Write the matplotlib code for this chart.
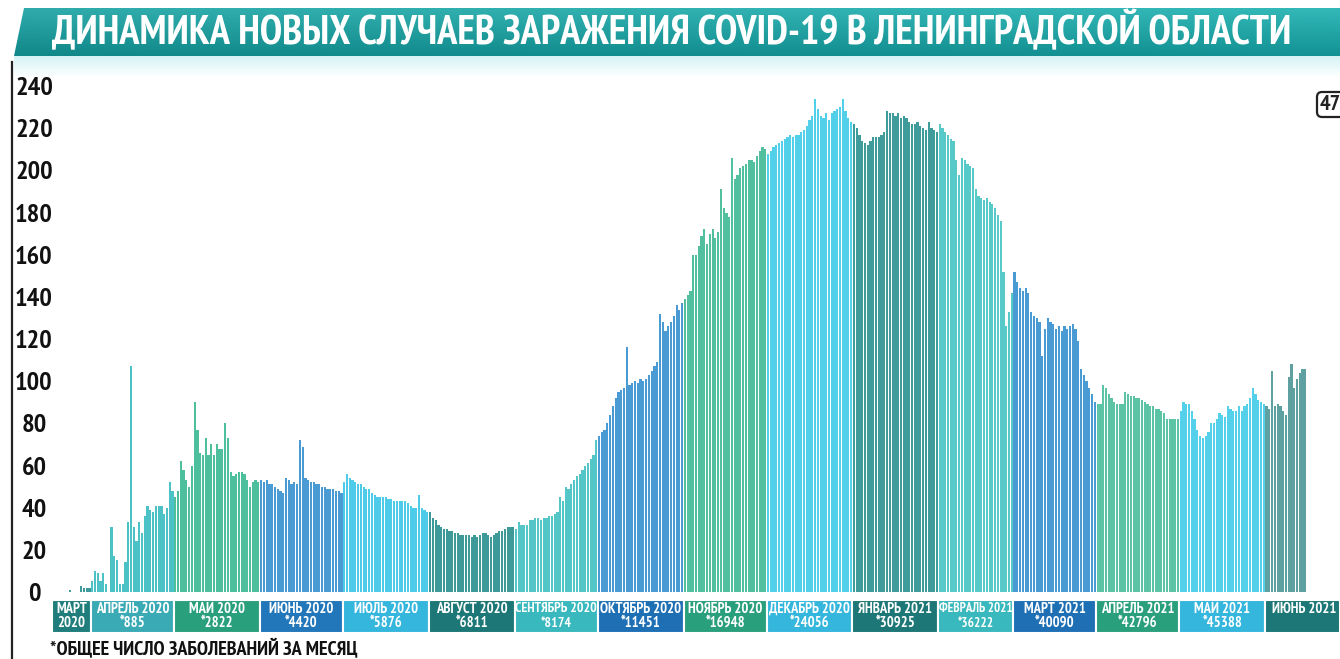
import matplotlib
matplotlib.use('Agg')
import matplotlib.pyplot as plt
import matplotlib.font_manager as fm
from matplotlib.font_manager import FontProperties
import numpy as np
from matplotlib.patches import Polygon, FancyBboxPatch

# ---------------- data (daily new cases) ----------------
mar_2020 = [0, 0, 0, 0, 0, 0, 1, 0, 0, 0, 3, 2, 2, 2]
apr_2020 = [5, 10, 9, 5, 9, 4, 0, 31, 17, 15, 4, 4, 14, 33, 107, 31, 24, 33, 28, 36,
            41, 39, 38, 41, 41, 41, 37, 40, 52, 48]
may_2020 = [45, 48, 62, 58, 53, 50, 60, 90, 77, 66, 65, 73, 65, 70, 65, 70, 68, 68, 80, 73,
            57, 55, 56, 57, 57, 56, 53, 50, 52, 53, 52]
jun_2020 = [53, 52, 53, 51, 51, 50, 49, 48, 47, 54, 53, 51, 52, 51, 72, 69, 54, 53, 52, 52,
            51, 51, 50, 50, 49, 49, 49, 48, 48, 47]
jul_2020 = [52, 56, 54, 53, 52, 51, 51, 50, 49, 49, 47, 46, 45, 45, 45, 45, 44, 44, 43, 43,
            43, 43, 43, 42, 41, 40, 40, 46, 40, 39, 38]
aug_2020 = [38, 35, 34, 32, 31, 30, 30, 29, 29, 28, 28, 27, 27, 27, 27, 26, 27, 26, 27, 28,
            28, 27, 26, 27, 28, 29, 29, 30, 31, 31, 31]
sep_2020 = [30, 33, 32, 32, 32, 34, 34, 35, 35, 34, 35, 35, 36, 36, 37, 38, 45, 43, 50, 49,
            51, 53, 55, 56, 58, 60, 61, 63, 65, 72]
oct_2020 = [74, 76, 77, 80, 84, 88, 92, 95, 96, 97, 116, 98, 99, 100, 99, 101, 100, 101, 103, 105,
            107, 109, 132, 128, 124, 126, 128, 131, 136, 134, 137]
nov_2020 = [139, 141, 143, 160, 160, 164, 169, 172, 165, 170, 172, 168, 171, 191, 182, 180, 178, 206, 196, 198,
            201, 202, 203, 205, 205, 204, 207, 209, 211, 210]
dec_2020 = [208, 209, 211, 212, 213, 214, 215, 216, 217, 216, 217, 217, 218, 219, 221, 224, 226, 234, 229, 226,
            225, 227, 224, 227, 228, 229, 230, 234, 228, 225, 223]
jan_2021 = [222, 220, 217, 214, 213, 212, 214, 216, 216, 216, 217, 218, 228, 227, 227, 226, 227, 225, 226, 225,
            223, 222, 222, 223, 221, 220, 219, 223, 220, 219, 218]
feb_2021 = [222, 220, 218, 217, 215, 214, 205, 198, 206, 205, 203, 202, 201, 191, 188, 187, 186, 187, 185, 184,
            182, 179, 176, 152, 126, 133, 142]
mar_2021 = [152, 147, 144, 143, 144, 142, 133, 131, 130, 128, 112, 125, 130, 128, 127, 125, 126, 124, 126, 125,
            126, 127, 125, 119, 106, 103, 100, 97, 94, 90]
apr_2021 = [89, 89, 98, 97, 94, 92, 90, 89, 89, 89, 95, 94, 93, 93, 92, 92, 91, 90, 89, 88,
            88, 87, 87, 86, 85, 82, 82, 82, 82, 82]
may_2021 = [86, 90, 89, 89, 86, 82, 77, 74, 73, 74, 76, 80, 80, 82, 85, 84, 83, 88, 87, 86,
            86, 88, 86, 88, 89, 92, 97, 94, 91, 90, 89]
jun_2021 = [88, 87, 105, 88, 89, 88, 86, 84, 102, 108, 97, 101, 104, 106, 106]

month_names = ['МАРТ', 'АПРЕЛЬ 2020', 'МАЙ 2020', 'ИЮНЬ 2020', 'ИЮЛЬ 2020', 'АВГУСТ 2020',
               'СЕНТЯБРЬ 2020', 'ОКТЯБРЬ 2020', 'НОЯБРЬ 2020', 'ДЕКАБРЬ 2020', 'ЯНВАРЬ 2021',
               'ФЕВРАЛЬ 2021', 'МАРТ 2021', 'АПРЕЛЬ 2021', 'МАЙ 2021', 'ИЮНЬ 2021']
month_totals = ['2020', '*885', '*2822', '*4420', '*5876', '*6811', '*8174', '*11451', '*16948',
                '*24056', '*30925', '*36222', '*40090', '*42796', '*45388', '']
y_ticks = [0, 20, 40, 60, 80, 100, 120, 140, 160, 180, 200, 220, 240]

title = 'ДИНАМИКА НОВЫХ СЛУЧАЕВ ЗАРАЖЕНИЯ COVID-19 В ЛЕНИНГРАДСКОЙ ОБЛАСТИ'
footnote = '*ОБЩЕЕ ЧИСЛО ЗАБОЛЕВАНИЙ ЗА МЕСЯЦ'

# ---------------- styles ----------------
band_colors = ['#1f7d7b', '#3aaab5', '#2a9f7c', '#2277bb', '#35b6dd', '#1d7776', '#39b8bd', '#1f6fb5',
               '#2a9f7c', '#35b6dd', '#1d7776', '#39b8bd', '#1f6fb5', '#2a9f7c', '#35b6dd', '#1d7776']
bar_colors_m = ['#3f9c9a', '#4cc1c6', '#4dbf9c', '#4a9ad3', '#4dcbe8', '#3e9a98', '#55c6c8', '#4a9ad3',
                '#52bf9f', '#52cfe9', '#3f9c9a', '#58c9c9', '#4a9ad3', '#5cc4a4', '#55d0ea', '#5fa1a1']


# ---------------- choose a bold condensed font if one is installed ----------------
def pick_font():
    best, best_score = None, None
    for f in fm.fontManager.ttflist:
        nm, fn = f.name, f.fname
        if 'Mono' in nm or 'Serif' in nm or f.style != 'normal':
            continue
        cond = ('Narrow' in nm or 'Condensed' in nm or 'Narrow' in fn or 'ondensed' in fn
                or f.stretch in ('condensed', 'semi-condensed', 'extra-condensed', 'ultra-condensed'))
        if not cond:
            continue
        w = f.weight if isinstance(f.weight, (int, float)) else fm.weight_dict.get(f.weight, 400)
        if w < 600:
            continue
        score = abs(w - 700)
        if 'Narrow' in nm or 'Narrow' in fn:
            score -= 1000
        if best_score is None or score < best_score:
            best, best_score = f, score
    if best is not None:
        return FontProperties(fname=best.fname)
    return FontProperties(family='DejaVu Sans', weight='bold')


BASEFP = pick_font()


def fp(size, italic=False):
    p = BASEFP.copy()
    p.set_size(size)
    if italic:
        p.set_style('italic')
    return p


months_data = [mar_2020, apr_2020, may_2020, jun_2020, jul_2020, aug_2020, sep_2020, oct_2020,
               nov_2020, dec_2020, jan_2021, feb_2021, mar_2021, apr_2021, may_2021, jun_2021]

values = np.concatenate([np.array(m, dtype=float) for m in months_data])
counts = np.array([len(m) for m in months_data])
starts = np.concatenate([[0], np.cumsum(counts)[:-1]]) - 0.5
colors = np.concatenate([[c] * n for c, n in zip(bar_colors_m, counts)])
x = np.arange(len(values))

W, H = 1340, 659
fig = plt.figure(figsize=(W / 100, H / 100), dpi=100)
renderer = fig.canvas.get_renderer()


def fit(txt, target_w, max_fs):
    w = txt.get_window_extent(renderer).width
    fs = txt.get_fontsize() * target_w / max(w, 1)
    txt.set_fontsize(min(fs, max_fs))


# background/decoration axes in pixel coordinates
bg = fig.add_axes([0, 0, 1, 1], zorder=0)
bg.set_xlim(0, W)
bg.set_ylim(H, 0)
bg.axis('off')

# banner gradient
bh, bw = 48, 200
vy = np.linspace(0, 1, bh)[:, None]
hx = np.linspace(0, 1, bw)[None, :]
top = np.array([0x34, 0xb8, 0xb8]) / 255
bot = np.array([0x12, 0x92, 0x94]) / 255
grad = top[None, None, :] * (1 - vy[..., None]) + bot[None, None, :] * vy[..., None]
grad = grad * (0.93 + 0.07 * hx[..., None])
grad = np.clip(grad, 0, 1)
im = bg.imshow(grad, extent=[14, W, 56, 8], aspect='auto', zorder=1, interpolation='bilinear')
poly = Polygon([(14, 56), (24, 8), (W, 8), (W, 56)], closed=True, transform=bg.transData,
               facecolor='none', edgecolor='none')
bg.add_patch(poly)
im.set_clip_path(poly)

# glow below banner
gh = 22
glow = np.ones((gh, 2, 4))
glow[..., 0] = 0.82
glow[..., 1] = 0.95
glow[..., 2] = 0.96
glow[..., 3] = np.linspace(0.9, 0, gh)[:, None]
bg.imshow(glow, extent=[14, W, 56 + gh, 56], aspect='auto', zorder=0.9, interpolation='bilinear')

t_title = bg.text(672, 32, title, color='white', fontproperties=fp(28),
                  ha='center', va='center', zorder=2)
fit(t_title, 1235, 36)

# left frame line
bg.plot([12, 12], [62, H], color='#222222', lw=1.6, zorder=2)

# page badge
badge = FancyBboxPatch((1317, 92), 30, 25, boxstyle='round,pad=0,rounding_size=5',
                       facecolor='white', edgecolor='#222222', lw=1.6, zorder=2)
bg.add_patch(badge)
bg.text(1330, 105, '47', fontproperties=fp(16, italic=True),
        ha='center', va='center', color='#222222', zorder=3)

t_foot = bg.text(50, 648, footnote, fontproperties=fp(14),
                 ha='left', va='center', color='#111111', zorder=2)
fit(t_foot, 310, 18)

# tick label size
tick_fs = 19

# ---------------- main bar axes ----------------
left_px, right_px = 52, 1340
xmin, xmax = -0.5, 464.5
ax = fig.add_axes([left_px / W, (H - 592) / H, (right_px - left_px) / W, (592 - 65) / H], zorder=2)
ax.patch.set_alpha(0)
ax.bar(x, values, width=0.8, color=colors, linewidth=0)
ax.set_xlim(xmin, xmax)
ax.set_ylim(0, 250)
ax.set_yticks(y_ticks)
ax.set_yticklabels([str(t) for t in y_ticks], fontproperties=fp(tick_fs), color='#111111')
for lab in ax.get_yticklabels():
    lab.set_horizontalalignment('center')
ax.tick_params(axis='y', length=0, pad=13)
ax.set_xticks([])
for s in ax.spines.values():
    s.set_visible(False)

# ---------------- month bands ----------------
ax2 = fig.add_axes([left_px / W, (H - 633) / H, (right_px - left_px) / W, (633 - 600) / H], zorder=2)
widths = counts.astype(float).copy()
widths[-1] = xmax - starts[-1]
ax2.bar(starts + widths / 2, 1, width=widths, color=band_colors, edgecolor='white', linewidth=1.5)
ax2.set_xlim(xmin, xmax)
ax2.set_ylim(0, 1)
ax2.axis('off')
px_per_day = (right_px - left_px) / (xmax - xmin)
for i, (s0, wd, nm, tot) in enumerate(zip(starts, widths, month_names, month_totals)):
    cx = s0 + wd / 2
    if i == len(starts) - 1:
        cx = s0 + 26 * 0.5 + 1
    avail = min(wd, 30) * px_per_day - 2
    t1 = ax2.text(cx, 0.74, nm, color='white', fontproperties=fp(10.5), ha='center', va='center')
    fit(t1, avail, 10.5)
    if tot:
        t2 = ax2.text(cx, 0.3, tot, color='white', fontproperties=fp(max(t1.get_fontsize(), 9.5)),
                      ha='center', va='center')

fig.savefig('out.png', dpi=100, facecolor='white')
